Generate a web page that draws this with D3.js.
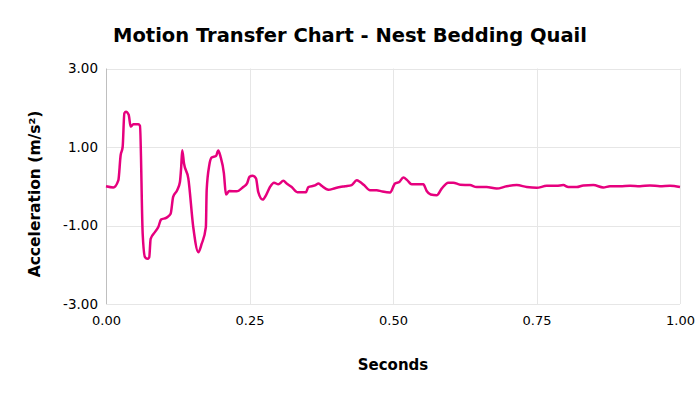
<!DOCTYPE html>
<html>
<head>
<meta charset="utf-8">
<script src="https://cdn.jsdelivr.net/npm/d3@7"></script>
<style>
  body { margin: 0; background: #fff; }
  text { font-family: "DejaVu Sans", Verdana, sans-serif; fill: #000; }
</style>
</head>
<body>
<div id="chart"></div>
<script>
// chart values
var chartTitle = "Motion Transfer Chart - Nest Bedding Quail";
var xTitle = "Seconds";
var yTitle = "Acceleration (m/s\u00B2)";

var xTicks = [0, 0.25, 0.5, 0.75, 1];
var yTicks = [-3, -1, 1, 3];

var seconds = [
  0, 0.0128, 0.0215, 0.0255, 0.029, 0.032, 0.0348, 0.0395, 0.043, 0.0476,
  0.0563, 0.0592, 0.0639, 0.068, 0.072, 0.0753, 0.0778, 0.0852, 0.0911, 0.0958,
  0.1056, 0.1126, 0.117, 0.124, 0.1288, 0.131, 0.1328, 0.1359, 0.1434, 0.152,
  0.1608, 0.1666, 0.174, 0.1754, 0.18, 0.184, 0.1916, 0.1956, 0.1996, 0.2054,
  0.209, 0.2148, 0.2276, 0.239, 0.246, 0.25, 0.2555, 0.2613, 0.2653, 0.273,
  0.2787, 0.2857, 0.2927, 0.3002, 0.309, 0.3148, 0.3235, 0.3333, 0.3484, 0.3525,
  0.364, 0.3705, 0.3757, 0.3873, 0.399, 0.4077, 0.4164, 0.428, 0.4367, 0.4425,
  0.4495, 0.46, 0.4716, 0.4803, 0.4948, 0.5035, 0.511, 0.518, 0.525, 0.5325,
  0.5528, 0.5587, 0.5657, 0.5761, 0.5848, 0.5963, 0.605, 0.617, 0.634, 0.6458,
  0.663, 0.6806, 0.698, 0.7155, 0.733, 0.7503, 0.7678, 0.785, 0.7967, 0.8054,
  0.82, 0.8316, 0.849, 0.8664, 0.878, 0.8955, 0.913, 0.9303, 0.9477, 0.965,
  0.9826, 1
];
var acceleration = [
  0, -0.03, 0.15, 0.79, 1.0, 1.86, 1.9, 1.82, 1.52, 1.58,
  1.58, 1.54, -1.21, -1.81, -1.85, -1.81, -1.34, -1.17, -1.04, -0.85,
  -0.8, -0.7, -0.27, -0.1, 0.11, 0.49, 0.92, 0.58, 0.2, -1.04,
  -1.68, -1.47, -1.04, -0.1, 0.54, 0.73, 0.77, 0.91, 0.75, 0.33,
  -0.21, -0.12, -0.13, -0.02, 0.08, 0.24, 0.27, 0.2, -0.15, -0.34,
  -0.23, -0.02, 0.09, 0.05, 0.14, 0.07, -0.02, -0.15, -0.15, -0.02,
  0.02, 0.07, 0.01, -0.09, -0.05, -0.02, 0, 0.03, 0.15, 0.11,
  0.03, -0.1, -0.1, -0.13, -0.16, 0.07, 0.11, 0.22, 0.15, 0.05,
  0.05, -0.12, -0.21, -0.23, -0.06, 0.09, 0.09, 0.04, 0.03, -0.02,
  -0.02, -0.06, 0, 0.03, -0.02, -0.04, 0.01, 0.01, 0.03, -0.02,
  -0.02, 0.02, 0.03, -0.03, 0, 0, 0.01, 0, 0.02, 0,
  0.01, -0.02
];

var width = 700, height = 394;
var plotLeft = 106, plotRight = 680, plotTop = 68.5, plotBottom = 304;

var svg = d3.select("#chart")
  .append("svg")
  .attr("width", width)
  .attr("height", height);

var x = d3.scaleLinear().domain([0, 1]).range([plotLeft, plotRight]);
var y = d3.scaleLinear().domain([-3, 3]).range([plotBottom, plotTop]);

// plain hyphen for negatives, like the reference
var fmt = function(d) { return d.toFixed(2); };

// gridlines
svg.append("g")
  .selectAll("line")
  .data(yTicks)
  .enter().append("line")
    .attr("x1", plotLeft).attr("x2", plotRight)
    .attr("y1", function(d) { return Math.round(y(d)) + 0.5; })
    .attr("y2", function(d) { return Math.round(y(d)) + 0.5; })
    .style("stroke", "#e6e6e6");

svg.append("g")
  .selectAll("line")
  .data(xTicks.slice(1))
  .enter().append("line")
    .attr("y1", plotTop).attr("y2", plotBottom)
    .attr("x1", function(d) { return Math.round(x(d)) + 0.5; })
    .attr("x2", function(d) { return Math.round(x(d)) + 0.5; })
    .style("stroke", "#e6e6e6");

// y axis line
svg.append("line")
  .attr("x1", plotLeft + 0.5).attr("x2", plotLeft + 0.5)
  .attr("y1", plotTop).attr("y2", plotBottom)
  .style("stroke", "#bfbfbf");

// tick labels
var yAxis = d3.axisLeft(y).tickValues(yTicks).tickSize(0).tickPadding(8).tickFormat(fmt);
var gy = svg.append("g").attr("transform", "translate(" + plotLeft + ",0)").call(yAxis);
gy.select(".domain").remove();
gy.selectAll("text").style("font-size", "13.5px").style("font-family", '"DejaVu Sans", sans-serif');

var xAxis = d3.axisBottom(x).tickValues(xTicks).tickSize(0).tickPadding(12).tickFormat(fmt);
var gx = svg.append("g").attr("transform", "translate(0," + plotBottom + ")").call(xAxis);
gx.select(".domain").remove();
gx.selectAll("text").style("font-size", "13px").style("font-family", '"DejaVu Sans", sans-serif');

// the series
var points = seconds.map(function(s, i) { return [s, acceleration[i]]; });
var line = d3.line()
  .x(function(d) { return x(d[0]); })
  .y(function(d) { return y(d[1]); })
  .curve(d3.curveMonotoneX);

svg.append("path")
  .datum(points)
  .attr("d", line)
  .style("fill", "none")
  .style("stroke", "#e6007e")
  .style("stroke-width", 2.5)
  .style("stroke-linejoin", "round");

// titles
svg.append("text")
  .attr("x", 350).attr("y", 42)
  .attr("text-anchor", "middle")
  .style("font-size", "19.5px")
  .style("font-weight", "bold")
  .text(chartTitle);

svg.append("text")
  .attr("x", 393).attr("y", 370)
  .attr("text-anchor", "middle")
  .style("font-size", "15px")
  .style("font-weight", "bold")
  .text(xTitle);

svg.append("text")
  .attr("transform", "translate(40,194) rotate(-90)")
  .attr("text-anchor", "middle")
  .style("font-size", "15.5px")
  .style("font-weight", "bold")
  .text(yTitle);
</script>
</body>
</html>
